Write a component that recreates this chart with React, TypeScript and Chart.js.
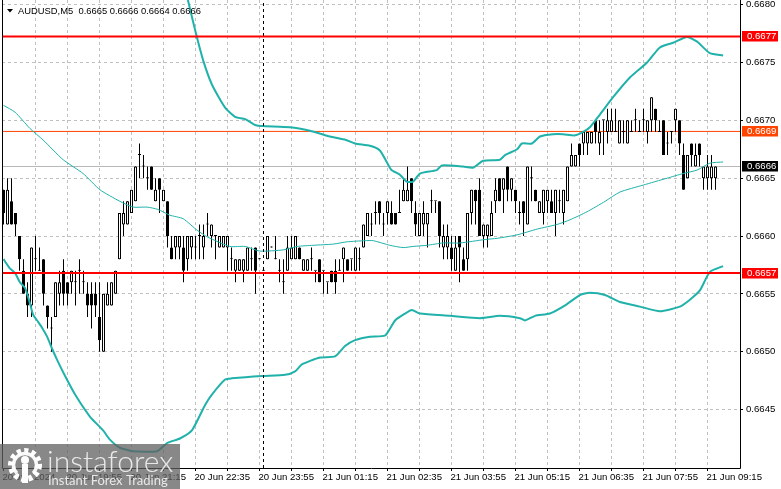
import React, { useEffect, useRef } from "react";
import { Chart, registerables } from "chart.js";

Chart.register(...registerables);

const symbolText = "AUDUSD,M5  0.6665 0.6666 0.6664 0.6666";
const PIP = 10000;

// prices in units of 0.0001, one entry per 5-minute candle
const opens = [
  6664,6661,6663,6662,6660,6657,6655,6654,6658,6657,
  6658,6654,6652,6653,6655,6657,6656,6656,6656,6657,
  6656,6655,6655,6655,6653,6650,6654,6654,6655,6658,
  6661,6661,6662,6663,6667,6666,6665,6666,6663,6665,
  6663,6663,6659,6659,6659,6659,6658,6659,6659,6660,
  6659,6661,6660,6660,6659,6659,6659,6658,6657,6657,
  6657,6657,6658,6659,6658,6657,6658,6659,6658,6657,
  6656,6657,6658,6658,6659,6657,6657,6658,6657,6658,
  6657,6656,6657,6657,6657,6658,6658,6658,6657,6658,
  6659,6660,6661,6662,6663,6661,6662,6662,6662,6662,
  6663,6663,6665,6662,6660,6661,6661,6663,6663,6663,
  6659,6659,6659,6657,6660,6658,6658,6662,6664,6664,
  6660,6660,6660,6663,6665,6664,6666,6664,6664,6662,
  6663,6661,6665,6664,6662,6662,6663,6663,6662,6663,
  6662,6663,6666,6666,6668,6668,6668,6668,6670,6668,
  6670,6669,6669,6669,6668,6669,6668,6669,6670,6669,
  6670,6669,6670,6671,6669,6670,6668,6669,6670,6670,
  6667,6665,6668,6666,6668,6665,6665,6665,6665,
];
const highs = [
  6664,6665,6665,6662,6660,6658,6656,6659,6660,6659,
  6658,6654,6653,6656,6657,6658,6656,6657,6657,6658,
  6657,6656,6656,6656,6656,6655,6656,6656,6657,6662,
  6663,6663,6664,6666,6668,6667,6666,6666,6665,6665,
  6664,6663,6660,6660,6660,6660,6660,6660,6660,6661,
  6661,6662,6661,6660,6660,6660,6660,6659,6658,6658,
  6658,6659,6659,6659,6658,6657,6660,6659,6660,6658,
  6658,6660,6660,6660,6659,6658,6658,6659,6657,6658,
  6657,6656,6657,6658,6658,6659,6658,6658,6659,6659,
  6661,6662,6662,6663,6663,6662,6663,6663,6662,6664,
  6665,6666,6665,6663,6662,6663,6662,6664,6663,6663,
  6661,6661,6660,6660,6660,6659,6662,6664,6664,6665,
  6661,6661,6663,6665,6665,6665,6666,6665,6664,6663,
  6663,6666,6666,6664,6663,6664,6664,6664,6664,6664,
  6664,6666,6668,6667,6668,6669,6669,6669,6670,6670,
  6670,6671,6671,6671,6670,6670,6670,6670,6671,6670,
  6671,6670,6672,6671,6670,6670,6669,6669,6671,6670,
  6668,6667,6668,6668,6668,6666,6667,6667,6666,
];
const lows = [
  6661,6661,6661,6660,6657,6655,6653,6653,6657,6657,
  6654,6652,6650,6653,6654,6654,6654,6655,6654,6655,
  6655,6653,6652,6653,6650,6650,6654,6654,6655,6658,
  6660,6661,6662,6663,6665,6665,6664,6664,6663,6662,
  6663,6659,6658,6658,6658,6656,6657,6658,6658,6658,
  6658,6660,6659,6658,6659,6659,6657,6657,6656,6657,
  6656,6657,6657,6655,6658,6657,6658,6659,6658,6656,
  6655,6657,6658,6658,6658,6657,6657,6657,6656,6656,
  6655,6655,6656,6655,6657,6656,6657,6657,6657,6657,
  6659,6660,6660,6661,6661,6660,6661,6661,6661,6662,
  6663,6663,6662,6660,6660,6660,6659,6662,6662,6659,
  6658,6658,6657,6657,6656,6657,6657,6661,6661,6660,
  6659,6659,6660,6662,6663,6662,6663,6663,6662,6661,
  6660,6661,6663,6663,6662,6661,6662,6662,6660,6662,
  6661,6663,6666,6666,6666,6667,6667,6668,6668,6667,
  6667,6668,6669,6669,6668,6668,6668,6669,6669,6669,
  6669,6668,6669,6669,6669,6667,6667,6668,6669,6667,
  6664,6665,6666,6666,6666,6664,6664,6664,6664,
];
const closes = [
  6662,6664,6661,6661,6658,6655,6654,6659,6658,6657,
  6655,6653,6652,6656,6656,6655,6655,6657,6656,6657,
  6656,6654,6654,6654,6651,6655,6655,6656,6657,6662,
  6662,6663,6664,6666,6667,6666,6665,6664,6664,6664,
  6664,6660,6658,6660,6660,6657,6660,6660,6659,6660,
  6660,6661,6661,6660,6660,6660,6660,6658,6658,6658,
  6658,6659,6658,6657,6658,6657,6660,6659,6658,6657,
  6656,6659,6659,6660,6658,6658,6658,6658,6657,6656,
  6657,6656,6656,6656,6657,6659,6657,6658,6659,6658,
  6661,6662,6661,6662,6662,6661,6663,6661,6661,6662,
  6664,6664,6663,6661,6662,6662,6662,6663,6663,6660,
  6660,6660,6658,6659,6659,6657,6662,6664,6663,6660,
  6661,6661,6662,6664,6663,6665,6664,6665,6663,6662,
  6662,6666,6665,6663,6663,6664,6664,6662,6664,6663,
  6664,6666,6667,6667,6667,6669,6669,6669,6669,6669,
  6670,6670,6670,6669,6670,6669,6670,6669,6670,6669,
  6670,6670,6672,6670,6669,6667,6668,6669,6671,6668,
  6664,6667,6667,6667,6667,6666,6666,6666,6666,
];

// Bollinger-style bands: candle position and price
const upperAt = [46.1,47.9,49.9,52.1,55.4,57.9,60.4,62.9,64.6,71.6,76.6,81.6,85.6,87.9,91.6,94.1,95.8,97,99.1,100.8,102.4,104.1,108.3,109.6,114.9,117.4,119.9,124.1,125.4,128.4,129.6,132.1,134.1,137.4,139.9,142.9,144.9,146.6,149.1,152.4,156.6,160.9,164.1,167.4,170.9,173.4,176.6,179.9];
const upperBand = [6680.4,6677.8,6675.2,6673.1,6671.1,6670.3,6670.1,6669.6,6669.5,6669.4,6669.1,6668.6,6668.3,6668,6667.8,6667.4,6666.4,6665.7,6665.3,6664.7,6664.7,6665.4,6665.7,6666.1,6666,6665.9,6666.5,6666.6,6667,6667.5,6668,6668,6668.6,6668.8,6668.8,6668.7,6669,6669.4,6670.5,6672,6673.7,6675,6676.3,6676.7,6677.2,6676.8,6675.8,6675.6];
const lowerAt = [0,1.6,2.9,4.1,5.4,6.6,7.4,8.4,9.6,10.9,12.1,13.4,15.4,17.9,21.6,24.9,26.6,29.1,32.4,38.4,40.9,44.1,47.1,50.4,52.1,55.4,57.1,64.6,70.4,72.9,74.6,79.1,82.9,85.4,87.9,91.6,95.4,97.9,100.4,102.1,104.1,111.6,119.1,124.1,129.1,130.4,132.9,136.6,140.4,144.1,146.6,150.4,154.1,159.1,164.1,169.1,171.6,174.1,176.6,179.9];
const lowerBand = [6658,6657.2,6656.8,6656,6655.5,6654.2,6653.2,6652.7,6652.1,6651.3,6650.3,6649.3,6647.9,6646.3,6644.4,6643.2,6642.4,6641.7,6641.4,6641.4,6642.1,6642.5,6643.2,6645.4,6646.3,6647.6,6647.7,6647.9,6648,6648.3,6648.9,6649.5,6649.6,6650.5,6651,6651.3,6651.4,6652.7,6653.3,6653.6,6653.3,6653.1,6652.9,6653.1,6652.9,6652.7,6653.1,6653.3,6654,6654.9,6655.1,6654.9,6654.3,6653.9,6653.5,6653.9,6654.5,6655.3,6656.9,6657.4];
const middleAt = [0,2.9,6.6,9.9,14.9,19.9,24.1,29.1,32.4,35.9,38.6,41.6,44.9,48.4,51.1,56.6,60.4,64.1,69.9,73.4,77.4,82.4,85.9,90.4,92.4,96.6,99.9,102.4,105.9,109.9,114.1,120.4,123.4,128.4,133.4,138.4,141.6,145.9,150.4,154.1,159.9,165.9,169.9,173.4,176.6,179.9];
const middleBand = [6671.3,6670.7,6669.3,6668.3,6666.6,6665.4,6664,6663,6662.5,6662.5,6662.3,6661.8,6661.5,6660.5,6659.9,6659.1,6659.1,6658.7,6658.8,6659.1,6659.2,6659.3,6659.5,6659.6,6659.6,6659.2,6659,6659.1,6659.2,6659.4,6659.4,6659.7,6659.8,6660.1,6660.6,6661,6661.4,6662.1,6663,6663.8,6664.4,6665,6665.4,6665.7,6666.3,6666.4];

// axes
const priceTicks = [0.6645, 0.665, 0.6655, 0.666, 0.6665, 0.667, 0.6675, 0.668];
const timeTickPositions = [0,8,16,24,32,40,48,56,64,72,80,88,96,104,112,120,128,136,144,152,160,168,176];
const timeLabels: Record<number, string> = {
  0: "20 Jun 2024", 16: "20 Jun 19:55", 32: "20 Jun 21:15", 48: "20 Jun 22:35",
  64: "20 Jun 23:55", 80: "21 Jun 01:15", 96: "21 Jun 02:35", 112: "21 Jun 03:55",
  128: "21 Jun 05:15", 144: "21 Jun 06:35", 160: "21 Jun 07:55", 176: "21 Jun 09:15",
};
const xMin = -0.375, xMax = 184.125;
const yMax = 0.66804, yMin = 0.663995;

// horizontal levels and the session marker
const resistance = 0.667725;
const support = 0.66568;
const pivot = 0.666904;
const bid = 0.666601;
const sessionMarkerAt = 65;

const TEAL = "#20b2aa";
const AXIS_FONT = '"Liberation Sans", sans-serif';

const xy = (xs: number[], ys: number[]) => xs.map((x, i) => ({ x, y: ys[i] / PIP }));
const hline = (v: number) => [{ x: xMin, y: v }, { x: xMax, y: v }];

const decorations = {
  id: "decorations",
  afterDraw(chart: any) {
    const { ctx, chartArea: a, scales } = chart;
    ctx.save();
    ctx.strokeStyle = "#000";
    ctx.lineWidth = 1;
    ctx.beginPath();
    ctx.moveTo(a.left + 0.5, 0); ctx.lineTo(a.left + 0.5, a.bottom + 0.5);
    ctx.lineTo(a.right + 0.5, a.bottom + 0.5); ctx.lineTo(a.right + 0.5, 0);
    ctx.stroke();

    // header
    ctx.fillStyle = "#000";
    ctx.beginPath(); ctx.moveTo(7, 9); ctx.lineTo(13, 9); ctx.lineTo(10, 12.5); ctx.closePath(); ctx.fill();
    ctx.font = `9.4px ${AXIS_FONT}`;
    ctx.textAlign = "left"; ctx.textBaseline = "middle";
    ctx.fillText(symbolText, 18, 11);

    // price flags
    const flags: [number, string][] = [[resistance, "#ff0000"], [pivot, "#ff4500"], [bid, "#000000"], [support, "#ff0000"]];
    for (const [v, col] of flags) {
      const y = scales.y.getPixelForValue(v);
      ctx.fillStyle = col;
      ctx.fillRect(742, Math.round(y) - 5, 36, 10.5);
      ctx.fillStyle = "#fff";
      ctx.font = `9.6px ${AXIS_FONT}`;
      ctx.fillText(v.toFixed(4), 747, Math.round(y) + 0.5);
    }

    // watermark
    ctx.fillStyle = "rgba(96,96,96,0.75)";
    ctx.fillRect(0, 444, 180, 45);
    ctx.strokeStyle = "#fff";
    ctx.fillStyle = "#fff";
    ctx.lineWidth = 6;
    ctx.setLineDash([4, 3.2]);
    ctx.beginPath(); ctx.arc(25, 465, 14, 0, Math.PI * 2); ctx.stroke();
    ctx.setLineDash([]);
    ctx.lineWidth = 3.5;
    ctx.strokeStyle = "rgba(255,255,255,0.95)";
    ctx.beginPath(); ctx.arc(25, 465, 11.5, Math.PI * 0.75, Math.PI * 2.25); ctx.stroke();
    ctx.beginPath(); ctx.arc(25, 460, 4, 0, Math.PI * 2); ctx.fill();
    ctx.fillRect(22, 464, 6, 19);
    ctx.fillStyle = "rgba(238,238,238,0.95)";
    ctx.font = '300 30px Lato, sans-serif';
    ctx.textBaseline = "alphabetic";
    ctx.fillText("instaforex", 47, 472);
    ctx.font = '13px Lato, sans-serif';
    ctx.fillText("Instant Forex Trading", 48, 485);
    ctx.restore();
  },
};

export default function App() {
  const ref = useRef<HTMLCanvasElement>(null);
  useEffect(() => {
    const positions = opens.map((_, i) => i);
    const chart = new Chart(ref.current!, {
      type: "bar",
      data: {
        datasets: [
          { type: "line", data: hline(bid), borderColor: "#b8b8b8", borderWidth: 1, pointRadius: 0, order: 30 },
          { type: "line", data: hline(pivot), borderColor: "#ff4500", borderWidth: 1, pointRadius: 0, order: 29 },
          {
            type: "bar", data: positions.map((i) => ({ x: i, y: [lows[i] / PIP, highs[i] / PIP] })),
            backgroundColor: "#000", borderWidth: 0, barThickness: 1, grouped: false, inflateAmount: 0, minBarLength: 1, order: 20,
          },
          {
            type: "bar",
            data: positions.map((i) => ({ x: i, y: [Math.min(opens[i], closes[i]) / PIP, Math.max(opens[i], closes[i]) / PIP] })),
            backgroundColor: positions.map((i) => (closes[i] > opens[i] ? "#fff" : "#000")),
            borderColor: "#000", borderWidth: 1, borderSkipped: false, barThickness: 3, grouped: false, inflateAmount: 0, minBarLength: 1, order: 19,
          },
          { type: "line", data: xy(middleAt, middleBand), borderColor: TEAL, borderWidth: 1, pointRadius: 0, tension: 0.2, order: 10 },
          { type: "line", data: xy(upperAt, upperBand), borderColor: TEAL, borderWidth: 2, pointRadius: 0, tension: 0.2, order: 9 },
          { type: "line", data: xy(lowerAt, lowerBand), borderColor: TEAL, borderWidth: 2, pointRadius: 0, tension: 0.2, order: 8 },
          { type: "line", data: [{ x: sessionMarkerAt, y: yMin }, { x: sessionMarkerAt, y: yMax }], borderColor: "#000", borderWidth: 1, borderDash: [3, 3], pointRadius: 0, order: 5 },
          { type: "line", data: hline(resistance), borderColor: "#ff0000", borderWidth: 2, pointRadius: 0, order: 2 },
          { type: "line", data: hline(support), borderColor: "#ff0000", borderWidth: 2, pointRadius: 0, order: 1 },
        ] as any,
      },
      options: {
        responsive: false,
        animation: false,
        devicePixelRatio: 1,
        events: [],
        layout: { padding: { left: 2, right: 0, top: 0, bottom: 0 } },
        plugins: { legend: { display: false }, tooltip: { enabled: false }, title: { display: false } },
        scales: {
          x: {
            type: "linear", min: xMin, max: xMax, offset: false,
            afterBuildTicks: (s: any) => { s.ticks = timeTickPositions.map((value) => ({ value })); },
            afterFit: (s: any) => { s.height = 21; s.paddingLeft = 0; s.paddingRight = 0; },
            grid: {
              offset: false, tickLength: 3, tickColor: "#000",
              color: (c: any) => (c.tick && c.tick.value === 0 ? "rgba(0,0,0,0)" : "#c0c0c0"),
            },
            border: { display: false, dash: [3, 3] },
            ticks: {
              autoSkip: false, maxRotation: 0, minRotation: 0, align: "start", padding: 1, labelOffset: -1,
              color: "#000", font: { family: AXIS_FONT, size: 9.6 },
              callback: (v: any) => timeLabels[v as number] ?? "",
            },
          },
          y: {
            type: "linear", position: "right", min: yMin, max: yMax,
            afterBuildTicks: (s: any) => { s.ticks = priceTicks.map((value) => ({ value })); },
            afterFit: (s: any) => { s.width = 41; s.paddingTop = 0; s.paddingBottom = 0; },
            grid: { tickLength: 3, tickColor: "#000", color: "#c0c0c0" },
            border: { display: false, dash: [3, 3] },
            ticks: {
              padding: 3, color: "#000", font: { family: AXIS_FONT, size: 9.6 },
              callback: (v: any) => Number(v).toFixed(4),
            },
          },
        },
      } as any,
      plugins: [decorations],
    });
    return () => chart.destroy();
  }, []);
  return (
    <canvas
      ref={ref}
      width={781}
      height={489}
      style={{ position: "fixed", left: 0, top: 0, display: "block", background: "#fff" }}
    />
  );
}
